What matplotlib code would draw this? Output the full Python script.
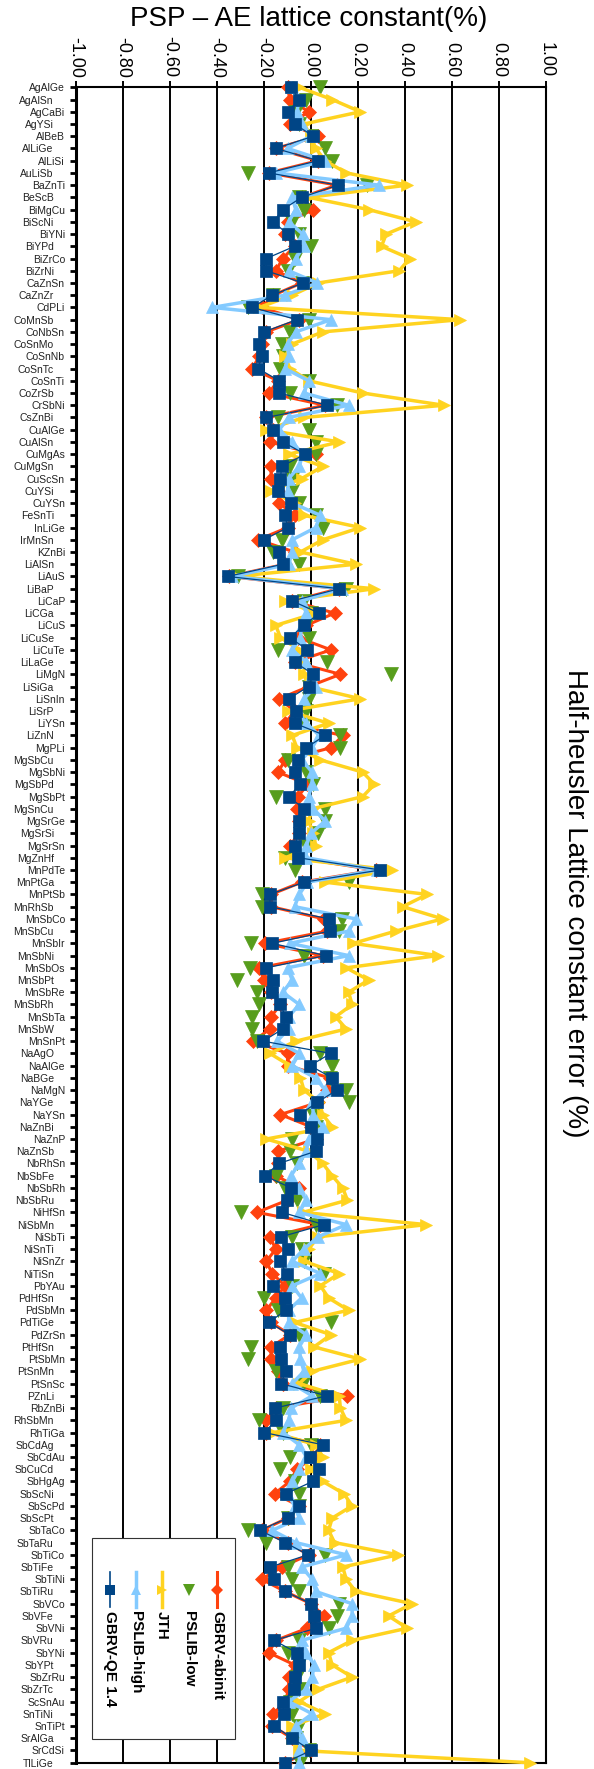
import numpy as np
import matplotlib
matplotlib.use("Agg")
import matplotlib.pyplot as plt
from matplotlib.patches import Rectangle

plt.rcParams['font.family'] = ['Liberation Sans', 'DejaVu Sans']

# Categories (top to bottom)
compounds = [
    "AgAlGe", "AgAlSn", "AgCaBi", "AgYSi", "AlBeB", "AlLiGe", "AlLiSi", "AuLiSb", "BaZnTi", "BeScB",
    "BiMgCu", "BiScNi", "BiYNi", "BiYPd", "BiZrCo", "BiZrNi", "CaZnSn", "CaZnZr", "CdPLi", "CoMnSb",
    "CoNbSn", "CoSnMo", "CoSnNb", "CoSnTc", "CoSnTi", "CoZrSb", "CrSbNi", "CsZnBi", "CuAlGe", "CuAlSn",
    "CuMgAs", "CuMgSn", "CuScSn", "CuYSi", "CuYSn", "FeSnTi", "InLiGe", "IrMnSn", "KZnBi", "LiAlSn",
    "LiAuS", "LiBaP", "LiCaP", "LiCGa", "LiCuS", "LiCuSe", "LiCuTe", "LiLaGe", "LiMgN", "LiSiGa",
    "LiSnIn", "LiSrP", "LiYSn", "LiZnN", "MgPLi", "MgSbCu", "MgSbNi", "MgSbPd", "MgSbPt", "MgSnCu",
    "MgSrGe", "MgSrSi", "MgSrSn", "MgZnHf", "MnPdTe", "MnPtGa", "MnPtSb", "MnRhSb", "MnSbCo", "MnSbCu",
    "MnSbIr", "MnSbNi", "MnSbOs", "MnSbPt", "MnSbRe", "MnSbRh", "MnSbTa", "MnSbW", "MnSnPt", "NaAgO",
    "NaAlGe", "NaBGe", "NaMgN", "NaYGe", "NaYSn", "NaZnBi", "NaZnP", "NaZnSb", "NbRhSn", "NbSbFe",
    "NbSbRh", "NbSbRu", "NiHfSn", "NiSbMn", "NiSbTi", "NiSnTi", "NiSnZr", "NiTiSn", "PbYAu", "PdHfSn",
    "PdSbMn", "PdTiGe", "PdZrSn", "PtHfSn", "PtSbMn", "PtSnMn", "PtSnSc", "PZnLi", "RbZnBi", "RhSbMn",
    "RhTiGa", "SbCdAg", "SbCdAu", "SbCuCd", "SbHgAg", "SbScNi", "SbScPd", "SbScPt", "SbTaCo", "SbTaRu",
    "SbTiCo", "SbTiFe", "SbTiNi", "SbTiRu", "SbVCo", "SbVFe", "SbVNi", "SbVRu", "SbYNi", "SbYPt",
    "SbZrRu", "SbZrTc", "ScSnAu", "SnTiNi", "SnTiPt", "SrAlGa", "SrCdSi", "TlLiGe",
]

gbrv_abinit = [
    -0.10, -0.09, -0.01, -0.09, 0.03, -0.15, 0.03, -0.18, 0.11, -0.04,
    0.01, -0.10, -0.11, -0.07, -0.12, -0.15, -0.04, -0.16, -0.21, -0.05,
    -0.19, -0.21, -0.22, -0.25, -0.14, -0.18, 0.06, -0.19, -0.16, -0.175,
    0.02, -0.17, -0.17, -0.14, -0.135, -0.07, -0.10, -0.225, -0.07, -0.11,
    -0.35, 0.12, -0.08, 0.10, -0.02, -0.055, 0.085, -0.07, 0.125, -0.01,
    -0.135, -0.07, -0.11, 0.135, 0.085, -0.11, -0.14, -0.015, -0.055, -0.06,
    -0.05, -0.05, -0.09, -0.06, 0.275, -0.04, -0.17, -0.17, 0.055, 0.07,
    -0.195, 0.05, -0.22, -0.20, -0.17, -0.13, -0.17, -0.175, -0.245, -0.10,
    -0.10, 0.08, 0.067, 0.03, -0.13, 0.0, 0.02, -0.14, -0.14, -0.15,
    -0.05, -0.10, -0.23, 0.04, -0.175, -0.15, -0.19, -0.165, -0.11, -0.15,
    -0.19, -0.17, -0.09, -0.17, -0.17, -0.14, -0.12, 0.155, -0.15, -0.19,
    -0.19, 0.04, 0.01, -0.06, -0.09, -0.155, -0.05, -0.10, -0.21, -0.10,
    -0.01, -0.125, -0.21, -0.11, 0.0, 0.055, -0.015, -0.15, -0.18, -0.07,
    -0.095, -0.095, -0.11, -0.16, -0.165, -0.08, 0.0, -0.11,
]

pslib_low = [
    0.04, -0.02, -0.065, -0.05, 0.0, 0.06, 0.09, -0.27, 0.24, -0.05,
    -0.03, -0.08, -0.05, 0.0, -0.07, -0.10, -0.04, -0.16, -0.27, -0.01,
    -0.09, -0.125, -0.12, -0.13, -0.01, -0.09, 0.11, -0.14, -0.01, 0.02,
    0.02, -0.09, -0.08, -0.08, -0.05, 0.02, 0.05, -0.125, -0.16, -0.05,
    -0.31, 0.15, -0.03, 0.0, -0.02, -0.01, -0.14, 0.07, 0.34, -0.01,
    -0.01, -0.02, -0.03, 0.125, 0.125, -0.10, -0.02, 0.01, -0.15, 0.06,
    0.06, 0.03, -0.02, -0.11, -0.07, 0.16, -0.21, -0.21, 0.13, 0.12,
    -0.255, -0.03, -0.26, -0.315, -0.23, -0.22, -0.25, -0.25, -0.23, 0.04,
    0.09, 0.08, 0.15, 0.16, 0.01, 0.02, -0.08, -0.09, -0.06, -0.15,
    -0.11, -0.06, -0.30, 0.02, -0.08, -0.04, -0.03, 0.055, -0.08, -0.20,
    -0.14, 0.085, -0.05, -0.255, -0.27, -0.15, -0.035, 0.04, -0.12, -0.22,
    -0.12, 0.0, -0.09, -0.13, -0.07, -0.05, -0.05, -0.10, -0.27, -0.19,
    0.06, -0.10, -0.08, -0.05, 0.12, 0.11, 0.075, -0.05, -0.10, -0.05,
    -0.06, -0.05, -0.09, -0.08, -0.05, -0.065, -0.01, -0.045,
]

jth = [
    -0.05, 0.09, 0.21, -0.03, 0.0, 0.02, 0.06, 0.15, 0.41, -0.01,
    0.245, 0.445, 0.32, 0.30, 0.42, 0.375, 0.03, -0.08, -0.22, 0.635,
    0.05, -0.08, -0.11, -0.09, -0.01, 0.22, 0.565, -0.03, -0.19, 0.12,
    -0.095, 0.05, -0.04, -0.17, -0.07, -0.03, 0.21, 0.05, -0.045, 0.19,
    -0.32, 0.27, -0.11, 0.02, -0.15, -0.13, -0.05, -0.03, -0.03, -0.01,
    0.21, -0.10, 0.075, -0.08, -0.06, 0.04, 0.22, 0.27, 0.22, 0.005,
    -0.01, 0.01, 0.02, -0.11, 0.345, 0.06, 0.495, 0.39, 0.56, 0.36,
    0.18, 0.54, 0.15, 0.245, 0.16, 0.175, 0.105, 0.15, -0.065, -0.175,
    -0.09, -0.045, -0.03, 0.035, 0.05, 0.09, -0.19, -0.01, 0.05, 0.09,
    0.135, 0.155, -0.035, 0.49, 0.03, -0.01, -0.03, 0.12, 0.04, 0.075,
    0.16, -0.07, 0.085, 0.013, 0.21, 0.005, -0.05, 0.12, 0.125, 0.15,
    -0.16, 0.02, 0.05, 0.0, 0.05, 0.14, 0.175, 0.09, 0.075, 0.10,
    0.37, 0.135, 0.15, 0.19, 0.43, 0.33, 0.41, 0.175, 0.075, 0.09,
    0.175, 0.03, -0.05, 0.06, -0.08, -0.08, -0.05, 0.93,
]

pslib_high = [
    -0.08, -0.05, -0.06, -0.04, 0.0, -0.10, 0.06, -0.15, 0.29, -0.08,
    -0.065, -0.095, -0.035, -0.03, -0.065, -0.095, 0.027, -0.11, -0.42, 0.085,
    -0.065, -0.10, -0.095, -0.11, -0.01, -0.03, 0.16, -0.095, -0.135, -0.08,
    -0.035, -0.05, -0.095, -0.10, -0.08, 0.04, 0.02, -0.08, -0.08, -0.095,
    -0.335, 0.13, -0.04, -0.02, -0.04, -0.045, -0.08, -0.02, 0.005, 0.02,
    -0.03, -0.06, -0.02, 0.035, 0.005, -0.04, 0.005, 0.005, -0.01, 0.01,
    0.06, 0.0, -0.02, -0.02, 0.28, -0.015, -0.05, -0.07, 0.19, 0.16,
    -0.09, 0.16, -0.10, -0.08, -0.12, -0.05, -0.095, -0.095, -0.145, -0.05,
    -0.08, 0.02, 0.06, 0.005, 0.01, 0.05, -0.01, -0.02, -0.05, -0.085,
    -0.05, -0.02, -0.05, 0.15, 0.03, -0.03, -0.08, 0.04, -0.08, -0.04,
    -0.095, -0.095, -0.02, -0.05, -0.045, -0.03, -0.08, 0.005, -0.085, -0.095,
    -0.12, -0.05, -0.02, -0.05, -0.08, -0.10, -0.07, -0.05, -0.165, -0.065,
    0.15, -0.04, 0.005, 0.02, 0.175, 0.175, 0.15, -0.04, -0.02, 0.013,
    0.005, -0.02, -0.095, 0.005, -0.065, -0.04, -0.05, -0.05,
]

gbrv_qe = [
    -0.085, -0.05, -0.10, -0.07, 0.01, -0.15, 0.03, -0.18, 0.115, -0.04,
    -0.12, -0.16, -0.10, -0.07, -0.19, -0.19, -0.035, -0.165, -0.25, -0.06,
    -0.20, -0.22, -0.21, -0.225, -0.135, -0.135, 0.07, -0.19, -0.16, -0.12,
    -0.025, -0.125, -0.13, -0.14, -0.085, -0.11, -0.10, -0.20, -0.137, -0.12,
    -0.355, 0.12, -0.08, 0.035, -0.03, -0.09, -0.015, -0.07, 0.01, -0.01,
    -0.095, -0.065, -0.07, 0.06, -0.02, -0.055, -0.07, -0.045, -0.095, -0.03,
    -0.05, -0.05, -0.07, -0.055, 0.295, -0.03, -0.175, -0.175, 0.077, 0.08,
    -0.165, 0.062, -0.19, -0.162, -0.165, -0.13, -0.108, -0.12, -0.204, 0.084,
    -0.004, 0.09, 0.11, 0.027, -0.048, 0.0, 0.024, 0.02, -0.136, -0.197,
    -0.085, -0.104, -0.123, 0.055, -0.128, -0.096, -0.133, -0.104, -0.162, -0.11,
    -0.108, -0.179, -0.09, -0.133, -0.128, -0.108, -0.128, 0.067, -0.152, -0.148,
    -0.20, 0.05, -0.004, 0.034, 0.007, -0.106, -0.051, -0.10, -0.218, -0.11,
    -0.013, -0.174, -0.157, -0.11, 0.0, 0.013, 0.023, -0.157, -0.061, -0.052,
    -0.068, -0.071, -0.12, -0.116, -0.156, -0.08, 0.0, -0.11,
]

x_ticks = [-1.0, -0.8, -0.6, -0.4, -0.2, 0.0, 0.2, 0.4, 0.6, 0.8, 1.0]
x_tick_labels = ["-1.00", "-0.80", "-0.60", "-0.40", "-0.20", "0.00",
                 "0.20", "0.40", "0.60", "0.80", "1.00"]

# series styles: name, data, color, marker, linewidth, markersize
series = [
    ("GBRV-abinit", gbrv_abinit, "#FF420E", "D", 2.2, 7),
    ("PSLIB-low", pslib_low, "#579D1C", "v", 0, 10),
    ("JTH", jth, "#FFD320", ">", 2.5, 9),
    ("PSLIB-high", pslib_high, "#83CAFF", "^", 2.5, 9),
    ("GBRV-QE 1.4", gbrv_qe, "#004586", "s", 0.9, 8.5),
]

W, H = 594, 1769
fig = plt.figure(figsize=(W / 100, H / 100), dpi=100)
top_px, bot_px, left_px, right_px = 87.3, 1762.7, 76, 546
ax = fig.add_axes([left_px / W, 1 - bot_px / H, (right_px - left_px) / W, (bot_px - top_px) / H])

pos = np.arange(len(compounds))
for z, (name, vals, col, mk, lw, ms) in enumerate(series):
    ax.plot(vals, pos, color=col, lw=lw, linestyle='-' if lw > 0 else 'none',
            marker=mk, markersize=ms, markerfacecolor=col, markeredgecolor=col,
            markeredgewidth=0.5, clip_on=False, zorder=3 + z)

ax.set_xlim(-1, 1)
ax.set_ylim(len(compounds) - 1, 0)

ax.xaxis.tick_top()
ax.set_xticks(x_ticks)
ax.set_xticklabels(x_tick_labels)
ax.tick_params(axis='x', top=True, bottom=False, length=4, width=1.4, pad=3,
               labelsize=13, labelrotation=-90)
ax.grid(axis='x', color='black', lw=1.4, zorder=1)

ax.set_yticks(pos)
ax.set_yticklabels(compounds)
ax.tick_params(axis='y', length=4.5, width=2, labelsize=7.5, labelcolor='#222222')
for i, t in enumerate(ax.yaxis.get_major_ticks()):
    t.set_pad(3.5 if i % 2 == 0 else 11.5)

for s in ['left']:
    ax.spines[s].set_linewidth(2.2)
for s in ['top', 'bottom', 'right']:
    ax.spines[s].set_linewidth(1.5)

fig.text(309 / W, 1 - 19 / H, "PSP \u2013 AE lattice constant(%)", fontsize=20,
         ha='center', va='center')
fig.text(575 / W, 1 - 903 / H, "Half-heusler Lattice constant error (%)", fontsize=20,
         rotation=-90, ha='center', va='center')

# rotated legend drawn by hand in pixel coordinates
ov = fig.add_axes([0, 0, 1, 1])
ov.set_xlim(0, W)
ov.set_ylim(H, 0)
ov.axis('off')
ov.add_patch(Rectangle((92, 1538), 143, 201, facecolor='white', edgecolor='#333333', lw=0.8))
leg_x = {"GBRV-QE 1.4": 110, "PSLIB-high": 136, "JTH": 162, "PSLIB-low": 189, "GBRV-abinit": 217}
for name, vals, col, mk, lw, ms in series:
    x = leg_x[name]
    if lw > 0:
        ov.plot([x, x], [1572, 1607], color=col, lw=max(lw, 1.2))
    ov.plot([x], [1590], marker=mk, color=col, markersize=ms * 0.85, markeredgewidth=0)
    ov.text(x, 1611, name, rotation=-90, ha='center', va='top', fontsize=11,
            fontweight='bold')

fig.savefig("out.png", dpi=100)
